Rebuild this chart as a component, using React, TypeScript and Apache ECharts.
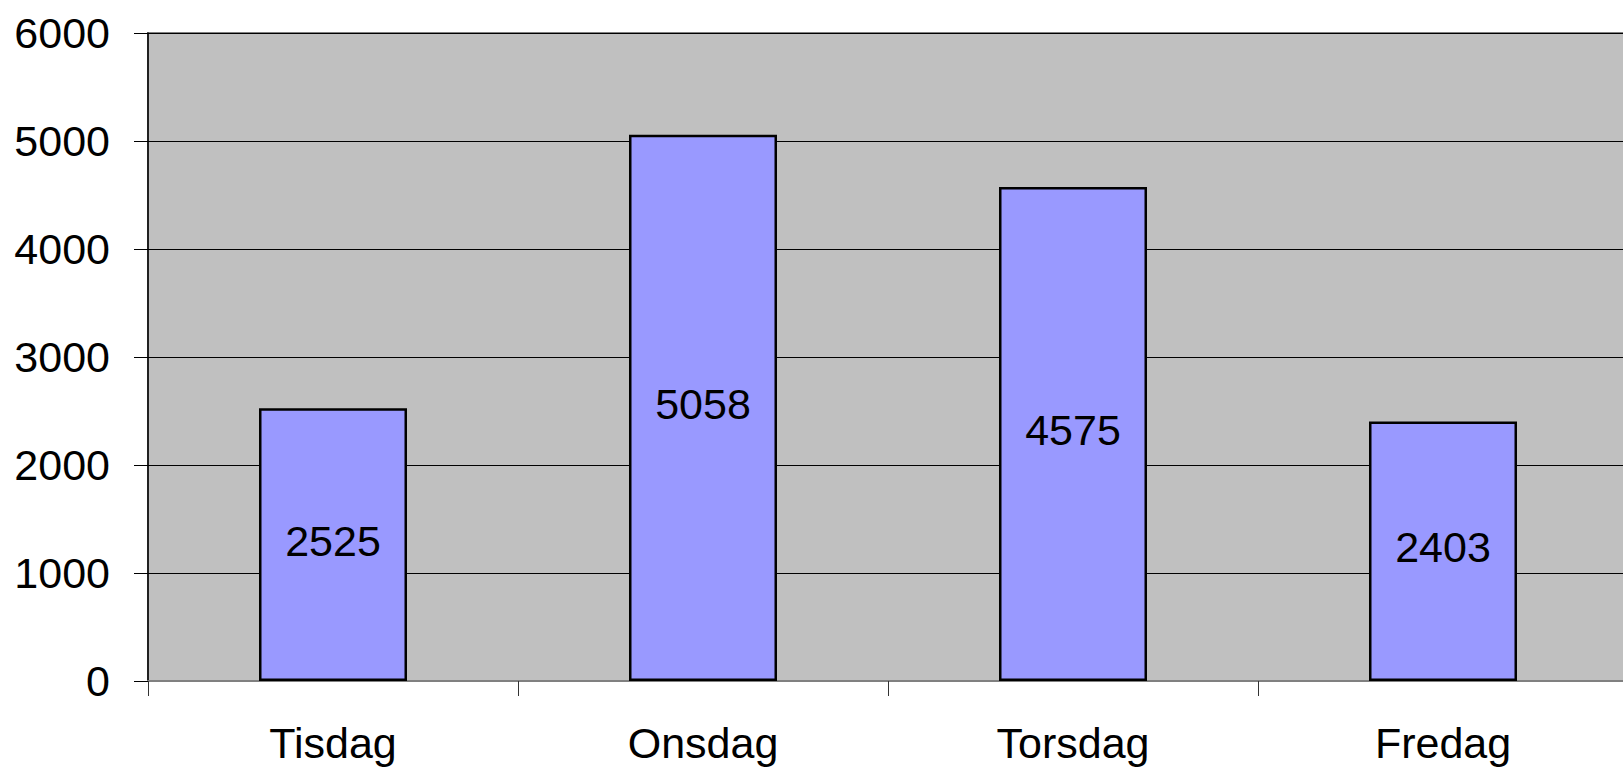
import React, { useEffect, useRef } from "react";
import * as echarts from "echarts";

const categories = ["Tisdag", "Onsdag", "Torsdag", "Fredag"];
const values = [2525, 5058, 4575, 2403];
const yMin = 0;
const yMax = 6000;
const yInterval = 1000;

export default function App() {
  const ref = useRef<HTMLDivElement>(null);
  useEffect(() => {
    if (!ref.current) return;
    const chart = echarts.init(ref.current, null, { renderer: "svg" });
    const font = "'Liberation Sans', Arial, sans-serif";
    chart.setOption({
      animation: false,
      backgroundColor: "#ffffff",
      grid: {
        left: 148,
        top: 33,
        right: 2,
        bottom: 87,
        show: true,
        backgroundColor: "#C0C0C0",
        borderColor: "#808080",
        borderWidth: 2,
        containLabel: false,
      },
      xAxis: {
        type: "category",
        data: categories,
        boundaryGap: true,
        axisLine: { show: true, lineStyle: { color: "#808080", width: 2 } },
        axisTick: { show: true, alignWithLabel: false, length: 15, lineStyle: { color: "#333", width: 1 } },
        axisLabel: { color: "#000", fontSize: 43, fontFamily: font, margin: 40 },
        splitLine: { show: false },
      },
      yAxis: {
        type: "value",
        min: yMin,
        max: yMax,
        interval: yInterval,
        axisLine: { show: true, lineStyle: { color: "#000", width: 1.5 } },
        axisTick: { show: true, inside: false, length: 14, lineStyle: { color: "#000", width: 1 } },
        axisLabel: {
          color: "#000",
          fontSize: 43,
          fontFamily: font,
          margin: 38,
          formatter: (v: number) => String(v),
        },
        splitLine: { show: true, lineStyle: { color: "#000", width: 1 } },
      },
      series: [
        {
          type: "bar",
          data: values,
          barWidth: "40%",
          itemStyle: { color: "#9999FF", borderColor: "#000", borderWidth: 2.5 },
          label: {
            show: true,
            position: "inside",
            offset: [0, -4],
            color: "#000",
            fontSize: 43,
            fontFamily: font,
          },
        },
      ],
    });
    return () => chart.dispose();
  }, []);
  return (
    <div
      style={{
        position: "absolute",
        left: 0,
        top: 0,
        width: 1623,
        height: 768,
        overflow: "hidden",
      }}
    >
      <div ref={ref} style={{ width: 1630, height: 768 }} />
    </div>
  );
}
